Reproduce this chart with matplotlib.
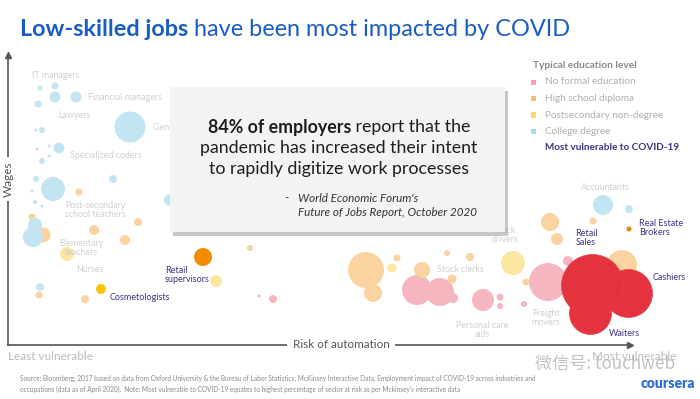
import matplotlib.pyplot as plt
from matplotlib.patches import Rectangle
from matplotlib.transforms import Bbox, TransformedBbox

plt.rcParams['font.family'] = ['Lato', 'DejaVu Sans']

# bubbles: (risk of automation, wages, bubble diameter) on an unlabeled scale
college = [(32, 257, 5), (47, 259, 7), (47, 248, 11), (68, 248, 11), (30, 241, 7),
           (28, 215, 3), (34, 215, 6), (122, 218, 31), (29, 196, 3), (41, 199, 3),
           (51, 197, 11), (41, 189, 3), (34, 184, 6), (28, 166, 6), (105, 166, 8),
           (45, 156, 24), (24, 154, 3), (27, 143, 4), (34, 139, 3), (162, 145, 12),
           (25, 108, 20), (27, 120, 14), (32, 58, 8), (595, 140, 20), (621, 136, 8)]
high_school = [(24, 128, 7), (35, 110, 15), (71, 153, 7), (130, 123, 8), (86, 115, 10),
               (117, 105, 10), (77, 46, 8), (31, 50, 7), (242, 97, 6), (358, 75, 36),
               (365, 52, 18), (389, 87, 7), (414, 75, 16), (439, 92, 6), (462, 88, 8),
               (444, 66, 9), (542, 123, 18), (549, 106, 12), (585, 124, 7), (614, 80, 30),
               (518, 63, 7)]
postsecondary = [(59, 91, 14), (208, 64, 12), (384, 77, 9), (505, 82, 24)]
no_formal = [(251, 49, 3), (265, 46, 8), (409, 55, 30), (432, 53, 28), (445, 47, 10),
             (475, 45, 22), (492, 48, 7), (492, 39, 6), (516, 41, 6), (540, 63, 38),
             (560, 84, 10)]
# most vulnerable to COVID-19
vulnerable = [(195, 88, 18, '#f18b00'), (621, 116, 5, '#e8870c'), (93, 56, 10, '#f7c600'),
              (582, 32, 42, '#e5323f'), (620, 52, 48, '#e5323f'), (584, 60, 62, '#e5323f')]

faded_labels = [('IT managers', 24, 270, 'left'), ('Financial managers', 80, 247, 'left'),
                ('Lawyers', 50, 229, 'left'), ('General managers', 145, 218, 'left'),
                ('Specialized coders', 62, 189, 'left'),
                ('Post-secondary\nschool teachers', 57, 135, 'left'),
                ('Elementary\nteachers', 73, 97, 'center'), ('Nurses', 82, 75, 'center'),
                ('Truck\ndrivers', 497, 110, 'center'), ('Stock clerks', 429, 75, 'left'),
                ('Personal care\naids', 474, 15, 'center'), ('Freight\nmovers', 538, 27, 'center'),
                ('Accountants', 597, 157, 'center')]
vuln_labels = [('Retail\nsupervisors', 157, 70, 'left'), ('Cosmetologists', 102, 47, 'left'),
               ('Retail\nSales', 578, 107, 'center'), ('Real Estate\nBrokers', 631, 117, 'left'),
               ('Cashiers', 645, 67, 'left'), ('Waiters', 616, 11, 'center')]

legend_names = ['No formal education', 'High school diploma', 'Postsecondary non-degree', 'College degree']
legend_colors = ['#f4a0b0', '#f5c07a', '#f5dc6e', '#a9d9ee']
faded_colors = ['#f6b6c0', '#fbd3a0', '#fbe7a0', '#c2e4f3']

PURPLE = '#3b3486'
FADE = '#d0d0d0'

fig = plt.figure(figsize=(7, 3.99), dpi=100)
ax = fig.add_axes([8 / 700, 54 / 399, 622 / 700, 290 / 399])
ax.set_xlim(0, 622)
ax.set_ylim(0, 290)
ax.set_xticks([])
ax.set_yticks([])
for s in ['top', 'right']:
    ax.spines[s].set_visible(False)
for s in ['left', 'bottom']:
    ax.spines[s].set_color('#555555')
    ax.spines[s].set_linewidth(1.2)
ax.plot([1], [0], '>', color='#555555', ms=5, transform=ax.transAxes, clip_on=False)
ax.plot([0], [1], '^', color='#555555', ms=5, transform=ax.transAxes, clip_on=False)


def bubbles(data, color):
    x = [d[0] for d in data]
    y = [d[1] for d in data]
    s = [(0.72 * d[2]) ** 2 for d in data]
    ax.scatter(x, y, s=s, color=color, edgecolors='none', clip_on=False, zorder=2)


for data, col in zip([no_formal, high_school, postsecondary, college], faded_colors):
    bubbles(data, col)
for x, y, d, col in vulnerable:
    ax.scatter([x], [y], s=[(0.72 * d) ** 2], color=col, edgecolors='#e0404a' if col == '#e5323f' else 'none',
               lw=0.5, clip_on=False, zorder=3)

# part of the chart is hidden behind the quote box
box_clip = TransformedBbox(Bbox([[-50, -50], [162, 340]]), ax.transData)
for txt, x, y, ha in faded_labels:
    t = ax.text(x, y, txt, ha=ha, va='center', fontsize=6.4, color=FADE, multialignment=ha,
                linespacing=1.1, zorder=4)
    if txt.startswith('General'):
        t.set_clip_box(box_clip)
        t.set_clip_on(True)
for txt, x, y, ha in vuln_labels:
    ax.text(x, y, txt, ha=ha, va='center', fontsize=6.5, color=PURPLE, multialignment=ha,
            linespacing=1.1, zorder=4, clip_on=False)

ax.text(0, 166, 'Wages', rotation=90, ha='center', va='center', fontsize=8.5, color='#555555',
        bbox=dict(facecolor='white', edgecolor='none', pad=3), zorder=5)
ax.text(333, 0, 'Risk of automation', ha='center', va='center', fontsize=8.4, color='#555555',
        bbox=dict(facecolor='white', edgecolor='none', pad=4), zorder=5)


def px(x, y):
    return x / 700, 1 - y / 399


fig.text(*px(8, 357), 'Least vulnerable', fontsize=8.5, color='#bbbbbb', va='center')
fig.text(*px(676, 357), 'Most vulnerable', fontsize=8.5, color='#bbbbbb', va='center', ha='right')

# title, bold part then regular part
r = fig.canvas.get_renderer()
t1 = fig.text(*px(20, 30), 'Low-skilled jobs', fontsize=16.9, fontweight='bold', color='#1a5dc2', va='center')
bb = t1.get_window_extent(r)
fig.text(bb.x1 / 700 + 0.008, 1 - 30 / 399, 'have been most impacted by COVID', fontsize=16.9,
         color='#1a5dc2', va='center')

# quote box
fig.patches.append(Rectangle(px(173, 236), 335 / 700, 145 / 399, transform=fig.transFigure,
                             facecolor='#9a9a9a', edgecolor='none', alpha=0.55, zorder=5))
fig.patches.append(Rectangle(px(170, 232), 335 / 700, 145 / 399, transform=fig.transFigure,
                             facecolor='#f3f3f3', edgecolor='none', zorder=6))
q1 = fig.text(0, 0, '84% of employers', fontsize=12.8, fontweight='bold', color='#1e1e1e', va='center', zorder=7)
q2 = fig.text(0, 0, ' report that the', fontsize=12.8, color='#1e1e1e', va='center', zorder=7)
w1 = q1.get_window_extent(r).width
w2 = q2.get_window_extent(r).width
x0 = 339 - (w1 + w2) / 2
q1.set_position(px(x0, 127))
q2.set_position(px(x0 + w1, 127))
fig.text(*px(339, 148), 'pandemic has increased their intent', fontsize=12.8, color='#1e1e1e',
         ha='center', va='center', zorder=7)
fig.text(*px(339, 169), 'to rapidly digitize work processes', fontsize=12.8, color='#1e1e1e',
         ha='center', va='center', zorder=7)
fig.text(*px(284, 198), '-', fontsize=8.4, color='#333333', va='center', zorder=7)
fig.text(*px(298, 198), "World Economic Forum's", fontsize=8.4, style='italic', color='#333333', va='center', zorder=7)
fig.text(*px(298, 213), 'Future of Jobs Report, October 2020', fontsize=8.4, style='italic', color='#333333',
         va='center', zorder=7)

# legend
fig.text(*px(533, 66), 'Typical education level', fontsize=7.3, fontweight='bold', color='#888888', va='center')
for i, (name, col) in enumerate(zip(legend_names, legend_colors)):
    y = 82 + i * 16.5
    fig.patches.append(Rectangle(px(531, y + 2.5), 5 / 700, 5 / 399, transform=fig.transFigure,
                                 facecolor=col, edgecolor='none'))
    fig.text(*px(545, y), name, fontsize=7.2, color='#b0b0b0', va='center')
fig.text(*px(545, 148), 'Most vulnerable to COVID-19', fontsize=7.2, fontweight='bold', color=PURPLE, va='center')

# footer
fig.text(*px(20, 378), 'Source: Bloomberg, 2017 based on data from Oxford University & the Bureau of Labor Statistics; '
         'McKinsey Interactive Data, Employment impact of COVID-19 across industries and',
         fontsize=4.7, color='#888888', va='center')
fig.text(*px(20, 389), "occupations (data as of April 2020).  Note: Most vulnerable to COVID-19 equates to highest "
         "percentage of sector at risk as per Mckinsey's interactive data",
         fontsize=4.7, color='#888888', va='center')
fig.text(*px(695, 384), 'coursera', fontsize=10, fontweight='heavy', color='#2a6fd0', ha='right', va='center')
fig.text(*px(535, 364), '微信号: touchweb', fontsize=12.3, color='#9a9a9a', alpha=0.6, va='center',
         family=['Noto Sans CJK SC', 'DejaVu Sans'])

fig.savefig('out.png', dpi=100)
